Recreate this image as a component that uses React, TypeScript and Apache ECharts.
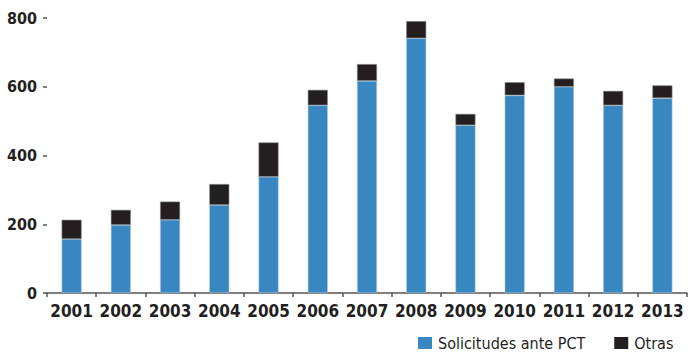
import React, { useEffect, useRef } from "react";
import * as echarts from "echarts";

const years = ["2001","2002","2003","2004","2005","2006","2007","2008","2009","2010","2011","2012","2013"];
const pct = [157, 198, 213, 256, 338, 546, 617, 741, 488, 575, 600, 546, 567];
const otras = [56, 44, 53, 61, 100, 45, 49, 50, 33, 38, 24, 42, 37];
const seriesNames = ["Solicitudes ante PCT", "Otras"];
const yTicks = { min: 0, max: 800, interval: 200 };

const FONT = "'DejaVu Sans Condensed', 'Liberation Sans Narrow', sans-serif";

export default function App() {
  const ref = useRef<HTMLDivElement>(null);
  useEffect(() => {
    if (!ref.current) return;
    const chart = echarts.init(ref.current, undefined, { renderer: "svg" });
    chart.setOption({
      animation: false,
      grid: { left: 47, right: 1, top: 18, bottom: 61, containLabel: false },
      legend: {
        left: 418,
        top: 335,
        width: 270,
        itemWidth: 14,
        itemHeight: 12,
        itemGap: 29,
        padding: 0,
        icon: "rect",
        itemStyle: { borderWidth: 0 },
        textStyle: { fontFamily: FONT, fontSize: 16, color: "#231f20", padding: [0, 0, 0, 1] },
        data: seriesNames,
      },
      xAxis: {
        type: "category",
        data: years,
        axisLine: { show: true, lineStyle: { color: "#555", width: 1.5 } },
        axisTick: { show: true, length: 4, lineStyle: { color: "#555", width: 1.5 } },
        axisLabel: { interval: 0, fontFamily: FONT, fontWeight: "bold", fontSize: 17, color: "#231f20", margin: 9 },
      },
      yAxis: {
        type: "value",
        min: yTicks.min,
        max: yTicks.max,
        interval: yTicks.interval,
        splitLine: { show: false },
        axisLine: { show: false },
        axisTick: { show: true, length: 4, lineStyle: { color: "#555", width: 1.5 } },
        axisLabel: { fontFamily: FONT, fontWeight: "bold", fontSize: 16, color: "#231f20", margin: 10 },
      },
      series: [
        {
          name: seriesNames[0],
          type: "bar",
          stack: "total",
          data: pct,
          barWidth: 20,
          itemStyle: { color: "#3887c0", borderColor: "#a9c6de", borderWidth: 0.6 },
        },
        {
          name: seriesNames[1],
          type: "bar",
          stack: "total",
          data: otras,
          barWidth: 20,
          itemStyle: { color: "#231f20", borderColor: "#8a8a8a", borderWidth: 0.6 },
        },
      ],
    });
    return () => chart.dispose();
  }, []);
  return <div ref={ref} style={{ width: 688, height: 354, position: "absolute", left: 0, top: 0, background: "#fff" }} />;
}
